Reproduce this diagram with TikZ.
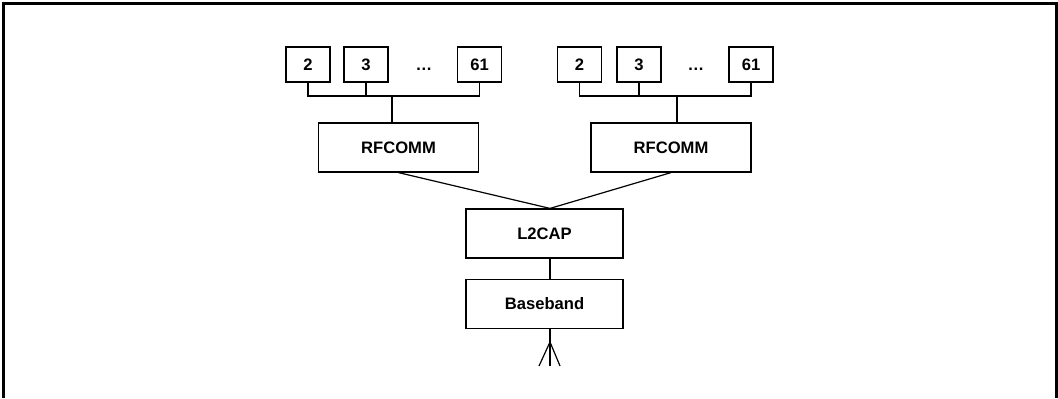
\documentclass[tikz,border=0pt]{standalone}
\usepackage{fontspec}
\setmainfont{Liberation Sans}
\usepackage{tikz}
\usetikzlibrary{positioning,calc}

\begin{document}
\begin{tikzpicture}[x=0.5pt,y=-0.5pt,
    line width=0.6pt,
    port/.style={draw,minimum width=22pt,minimum height=17.5pt,inner sep=0pt,font=\fontsize{8.3}{9}\selectfont\bfseries},
    layer/.style={draw,minimum width=80pt,minimum height=24.5pt,inner sep=0pt,font=\fontsize{8.3}{9}\selectfont\bfseries},
    dots/.style={inner sep=0pt,anchor=base,font=\fontsize{8.3}{9}\selectfont\bfseries}]
    \useasboundingbox (0,0) rectangle (1058,398);
    \draw[line width=1.5pt] (3,398) -- (3,3) -- (1056,3) -- (1056,398);
    % left stack
    \node[port] (l2) at (308,64.5) {2};
    \node[port] (l3) at (366,64.5) {3};
    \node[dots] (ldots) at (424,70.5) {…};
    \node[port] (l61) at (479.5,64.5) {61};
    \node[layer] (lrf) at (398.5,147.5) {RFCOMM};
    % right stack
    \node[port] (r2) at (579.5,64.5) {2};
    \node[port] (r3) at (639,64.5) {3};
    \node[dots] (rdots) at (696,70.5) {…};
    \node[port] (r61) at (751,64.5) {61};
    \node[layer] (rrf) at (671,147.5) {RFCOMM};
    % lower layers
    \node[layer,minimum width=78.5pt] (l2cap) at (544.5,233.5) {L2CAP};
    \node[layer,minimum width=78.5pt,below=10pt of l2cap] (bb) {Baseband};
    \coordinate (lbus) at (392,96);
    \coordinate (rbus) at (677,96);
    \coordinate (ant) at (550,366);
    \coordinate (antt) at (550,342);
    \draw (l2.south) |- (lbus) -| (l61.south);
    \draw (l3.south) -- (l3.south |- lbus);
    \draw (lbus) -- (lrf.north -| lbus);
    \draw (r2.south) |- (rbus) -| (r61.south);
    \draw (r3.south) -- (r3.south |- rbus);
    \draw (rbus) -- (rrf.north -| rbus);
    \draw (lrf.south) -- (l2cap.north -| ant);
    \draw (rrf.south) -- (l2cap.north -| ant);
    \draw (l2cap.south -| ant) -- (bb.north -| ant);
    \draw (bb.south -| ant) -- (ant);
    \draw (antt) -- ++(-11,24) (antt) -- ++(10,24);
  \end{tikzpicture}
\end{document}
